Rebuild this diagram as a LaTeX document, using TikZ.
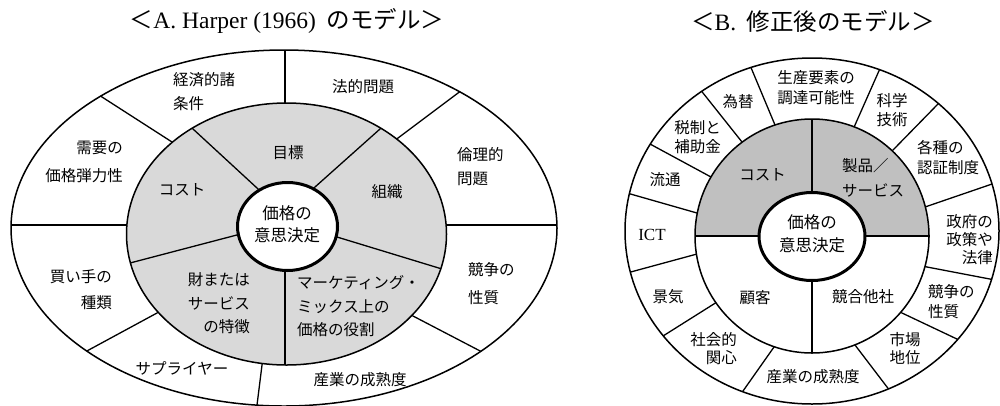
\documentclass[tikz,border=0pt]{standalone}
\usepackage{fontspec}
\setmainfont{Liberation Serif}
\newfontfamily\jp{Noto Sans CJK JP}
\usetikzlibrary{calc}
\definecolor{grayA}{HTML}{D9D9D9}
\definecolor{grayB}{HTML}{C0C0C0}
\newcommand\spoke[2]{\draw[divider] ($#1!-0.25!#2$) -- ($#1!1.25!#2$);}
\tikzset{
  ring/.style={draw=black, line width=1.5pt},
  divider/.style={draw=black, line width=1.3pt},
  hub/.style={draw=black, line width=3pt, fill=white},
  lblA/.style={font=\jp\fontsize{15.5}{#1}\selectfont, inner sep=0pt, align=center},
  lblA/.default=24,
  lblB/.style={font=\jp\fontsize{15.5}{#1}\selectfont, inner sep=0pt, align=center},
  lblB/.default=19,
  hubtext/.style={font=\jp\fontsize{16.5}{#1}\selectfont, inner sep=0pt, align=center},
  hubtext/.default=22,
  titletext/.style={font=\jp\fontsize{23.5}{26}\selectfont, inner sep=0pt},
  ict/.style={font=\rmfamily\fontsize{17}{20}\selectfont, inner sep=0pt}
}
\begin{document}
\begin{tikzpicture}[x=1pt,y=-1pt]
\useasboundingbox (0,0) rectangle (1000,405);

% ---------- titles ----------
\node[titletext] (tA) at (287,21) {＜{\rmfamily A. Harper (1966)}\ \ のモデル＞};
\node[titletext] (tB) at (813,21) {＜{\rmfamily B.}\ \ 修正後のモデル＞};

% ---------- Diagram A ----------
\coordinate (Ao) at (284,228);
\coordinate (Ai) at (286.5,234);
\fill[white] (Ao) ellipse[x radius=273pt, y radius=178pt];
\begin{scope}
  \clip (Ao) ellipse[x radius=273pt, y radius=178pt];
  \spoke{(285,103)}{(285,50)}
  \spoke{(172,142)}{(102,97)}
  \spoke{(398,138)}{(458,93)}
  \spoke{(126,225)}{(10,225)}
  \spoke{(447,225)}{(557,225)}
  \spoke{(157,313)}{(85,352)}
  \spoke{(413,316)}{(484,353)}
  \spoke{(262,365)}{(257,405)}
\end{scope}
\fill[grayA] (Ai) ellipse[x radius=160pt, y radius=131pt];
\begin{scope}
  \clip (Ai) ellipse[x radius=160pt, y radius=131pt];
  \spoke{(257,188)}{(193,129)}
  \spoke{(315,187)}{(380,129)}
  \spoke{(337,237)}{(442,269)}
  \spoke{(285,270)}{(285,365)}
  \spoke{(233,236)}{(130,263)}
\end{scope}
\draw[ring] (Ai) ellipse[x radius=160pt, y radius=131pt];
\draw[hub] (287.5,226.5) ellipse[x radius=50pt, y radius=44pt];
\draw[ring] (Ao) ellipse[x radius=273pt, y radius=178pt];

\node[lblA, anchor=west, align=left] (a1) at (173,91.5) {経済的諸\\条件};
\node[lblA] (a2) at (363,87) {法的問題};
\node[lblA=28, anchor=east, align=right] (a3) at (123,162) {需要の\\価格弾力性};
\node[lblA] (a4) at (288,153) {目標};
\node[lblA] (a5) at (182,190) {コスト};
\node[lblA] (a6) at (387,192) {組織};
\node[lblA, anchor=west, align=left] (a7) at (457,166.5) {倫理的\\問題};
\node[hubtext] (a8) at (287,224) {価格の\\意思決定};
\node[lblA=26, anchor=east, align=right] (a9) at (112,290) {買い手の\\種類};
\node[lblA=23.5, anchor=east, align=right] (a10) at (250,303.5) {財または\\サービス\\の特徴};
\node[lblA=23.5, anchor=west, align=left] (a11) at (297,306.5) {マーケティング・\\ミックス上の\\価格の役割};
\node[lblA=28, anchor=west, align=left] (a12) at (468,284) {競争の\\性質};
\node[lblA] (a13) at (182,368) {サプライヤー};
\node[lblA] (a14) at (360,380) {産業の成熟度};

% ---------- Diagram B ----------
\coordinate (Bo) at (812,231);
\coordinate (Bi) at (812,236);
\fill[white] (Bo) ellipse[x radius=187pt, y radius=173pt];
\begin{scope}
  \clip (Bo) ellipse[x radius=187pt, y radius=173pt];
  \spoke{(697,213)}{(627,193)}
  \spoke{(711,177)}{(650,144)}
  \spoke{(742,142)}{(703,93)}
  \spoke{(775,125)}{(752,70)}
  \spoke{(855,125)}{(878,73)}
  \spoke{(893,150)}{(937,105)}
  \spoke{(925,207)}{(995,183)}
  \spoke{(927,267)}{(995,280)}
  \spoke{(902,313)}{(959,340)}
  \spoke{(855,345)}{(887,387)}
  \spoke{(774,347)}{(743,391)}
  \spoke{(717,302)}{(663,336)}
  \spoke{(697,254)}{(627,273)}
\end{scope}
\fill[white] (Bi) circle[radius=117pt];
\begin{scope}
  \clip (Bi) circle[radius=117pt];
  \fill[grayB] (690,110) rectangle (935,236);
  \draw[divider] (812,100) -- (812,370);
  \draw[divider] (680,236) -- (945,236);
\end{scope}
\draw[ring] (Bi) circle[radius=117pt];
\draw[hub] (812,236.5) ellipse[x radius=53pt, y radius=44pt];
\draw[ring] (Bo) ellipse[x radius=187pt, y radius=173pt];

\node[lblB] (b1) at (738,102) {為替};
\node[lblB=20] (b2) at (816,88) {生産要素の\\調達可能性};
\node[lblB] (b3) at (892,110) {科学\\技術};
\node[lblB] (b4) at (697.5,137.5) {税制と\\補助金};
\node[lblB=20, anchor=west, align=left] (b5) at (917,158) {各種の\\認証制度};
\node[lblB] (b6) at (665,180) {流通};
\node[lblB] (b7) at (762.5,175) {コスト};
\node[lblB=25, anchor=west, align=left] (b8) at (842,177.5) {製品／\\サービス};
\node[ict] (b9) at (652,235) {ICT};
\node[hubtext=23] (b10) at (812,233.5) {価格の\\意思決定};
\node[lblB=18, anchor=east, align=right] (b11) at (993,240) {政府の\\政策や\\法律};
\node[lblB] (b12) at (668,297) {景気};
\node[lblB] (b13) at (755,298) {顧客};
\node[lblB] (b14) at (863,297) {競合他社};
\node[lblB=20, anchor=west, align=left] (b15) at (928,302) {競争の\\性質};
\node[lblB=18, anchor=east, align=right] (b16) at (737,349) {社会的\\関心};
\node[lblB=18] (b17) at (905,349) {市場\\地位};
\node[lblB] (b18) at (813,377) {産業の成熟度};
\end{tikzpicture}
\end{document}
